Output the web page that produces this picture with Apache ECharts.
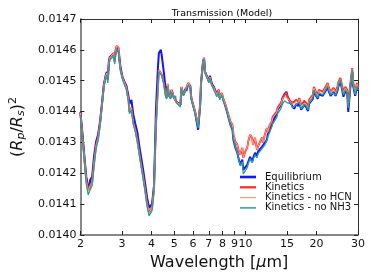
<!DOCTYPE html>
<html>
<head>
<meta charset="utf-8">
<script src="https://cdn.jsdelivr.net/npm/echarts@6/dist/echarts.min.js"></script>
<style>html,body{margin:0;padding:0;background:#fff}#c{width:374px;height:280px}</style>
</head>
<body>
<div id="c"></div>
<script>
const wavelength = [2.000,2.039,2.078,2.118,2.159,2.180,2.201,2.243,2.286,2.330,
2.376,2.422,2.468,2.516,2.564,2.589,2.614,2.639,2.664,2.716,
2.768,2.795,2.822,2.849,2.877,2.905,2.933,2.961,3.018,3.076,
3.136,3.197,3.228,3.290,3.354,3.419,3.485,3.553,3.621,3.690,
3.762,3.835,3.909,3.984,4.023,4.101,4.140,4.179,4.260,4.301,
4.385,4.427,4.512,4.599,4.643,4.688,4.733,4.824,4.870,4.964,
5.060,5.109,5.208,5.309,5.360,5.464,5.570,5.623,5.732,5.843,
5.899,6.013,6.129,6.188,6.308,6.430,6.492,6.617,6.681,6.745,
6.875,7.008,7.076,7.213,7.352,7.422,7.566,7.711,7.785,7.936,
8.089,8.245,8.404,8.485,8.649,8.816,8.901,9.073,9.249,9.338,
9.518,9.702,9.796,9.985,10.18,10.28,10.47,10.68,10.78,10.99,
11.20,11.31,11.53,11.75,11.86,12.09,12.32,12.44,12.69,12.93,
13.05,13.30,13.56,13.69,13.96,14.23,14.37,14.65,14.93,15.07,
15.36,15.66,15.81,16.11,16.43,16.75,16.91,17.23,17.57,17.74,
18.08,18.43,18.61,18.96,19.32,19.51,19.89,20.27,20.47,20.86,
21.26,21.47,21.88,22.31,22.52,22.96,23.40,23.63,24.09,24.55,
24.79,25.27,25.76,26.01,26.51,27.02,27.28,27.81,28.35,28.62,
29.18,29.73,30.00];

const equilibrium = [0.014399,0.014331,0.014257,0.014189,0.014156,0.014147,0.014179,0.014189,0.014257,0.014302,
0.014325,0.014367,0.014425,0.014490,0.014519,0.014529,0.014503,0.014561,0.014577,0.014574,
0.014587,0.014567,0.014596,0.014606,0.014600,0.014593,0.014567,0.014541,0.014512,0.014496,
0.014483,0.014451,0.014425,0.014438,0.014389,0.014360,0.014334,0.014289,0.014250,0.014211,
0.014166,0.014121,0.014088,0.014082,0.014101,0.014160,0.014276,0.014406,0.014541,0.014590,
0.014600,0.014580,0.014529,0.014470,0.014451,0.014483,0.014454,0.014444,0.014470,0.014448,
0.014454,0.014431,0.014428,0.014422,0.014477,0.014454,0.014474,0.014467,0.014490,0.014483,
0.014444,0.014418,0.014396,0.014376,0.014341,0.014418,0.014493,0.014561,0.014574,0.014529,
0.014529,0.014499,0.014516,0.014490,0.014480,0.014483,0.014457,0.014470,0.014444,0.014457,
0.014435,0.014415,0.014393,0.014380,0.014357,0.014341,0.014308,0.014283,0.014266,0.014250,
0.014227,0.014244,0.014211,0.014205,0.014227,0.014237,0.014253,0.014237,0.014250,0.014266,
0.014257,0.014270,0.014270,0.014286,0.014283,0.014299,0.014308,0.014325,0.014341,0.014357,
0.014367,0.014380,0.014389,0.014406,0.014415,0.014428,0.014444,0.014457,0.014464,0.014451,
0.014435,0.014438,0.014418,0.014409,0.014425,0.014418,0.014431,0.014406,0.014415,0.014422,
0.014415,0.014402,0.014425,0.014431,0.014441,0.014467,0.014451,0.014441,0.014457,0.014457,
0.014451,0.014451,0.014467,0.014480,0.014467,0.014451,0.014457,0.014464,0.014451,0.014467,
0.014483,0.014496,0.014467,0.014448,0.014467,0.014457,0.014399,0.014474,0.014529,0.014483,
0.014451,0.014480,0.014467];

const kinetics = [0.014396,0.014325,0.014250,0.014179,0.014143,0.014137,0.014160,0.014172,0.014237,0.014289,
0.014315,0.014360,0.014422,0.014486,0.014516,0.014525,0.014503,0.014554,0.014574,0.014574,
0.014590,0.014561,0.014600,0.014613,0.014609,0.014606,0.014561,0.014535,0.014509,0.014493,
0.014477,0.014438,0.014399,0.014412,0.014363,0.014341,0.014308,0.014266,0.014227,0.014189,
0.014147,0.014101,0.014072,0.014066,0.014088,0.014153,0.014250,0.014357,0.014477,0.014535,
0.014538,0.014519,0.014493,0.014451,0.014444,0.014490,0.014454,0.014444,0.014470,0.014448,
0.014454,0.014431,0.014428,0.014422,0.014480,0.014454,0.014470,0.014464,0.014493,0.014480,
0.014444,0.014422,0.014399,0.014383,0.014357,0.014422,0.014496,0.014561,0.014574,0.014529,
0.014525,0.014496,0.014512,0.014486,0.014477,0.014480,0.014454,0.014470,0.014444,0.014461,
0.014438,0.014422,0.014399,0.014389,0.014367,0.014357,0.014325,0.014302,0.014292,0.014276,
0.014260,0.014283,0.014250,0.014270,0.014283,0.014302,0.014325,0.014315,0.014292,0.014315,
0.014276,0.014286,0.014302,0.014315,0.014299,0.014325,0.014347,0.014334,0.014357,0.014367,
0.014383,0.014389,0.014399,0.014412,0.014422,0.014431,0.014444,0.014454,0.014461,0.014448,
0.014438,0.014444,0.014428,0.014422,0.014438,0.014431,0.014444,0.014422,0.014428,0.014435,
0.014428,0.014415,0.014438,0.014444,0.014454,0.014480,0.014464,0.014454,0.014470,0.014470,
0.014464,0.014464,0.014480,0.014493,0.014480,0.014464,0.014470,0.014477,0.014464,0.014480,
0.014496,0.014509,0.014480,0.014464,0.014480,0.014470,0.014422,0.014486,0.014541,0.014496,
0.014464,0.014493,0.014480];

const kineticsNoHCN = [0.014396,0.014325,0.014250,0.014179,0.014143,0.014137,0.014160,0.014172,0.014237,0.014289,
0.014315,0.014360,0.014422,0.014486,0.014516,0.014525,0.014503,0.014554,0.014574,0.014574,
0.014590,0.014561,0.014600,0.014613,0.014609,0.014606,0.014561,0.014535,0.014509,0.014493,
0.014477,0.014438,0.014399,0.014412,0.014363,0.014341,0.014308,0.014266,0.014227,0.014189,
0.014147,0.014101,0.014072,0.014066,0.014088,0.014153,0.014250,0.014357,0.014477,0.014535,
0.014538,0.014519,0.014493,0.014451,0.014444,0.014490,0.014454,0.014444,0.014470,0.014448,
0.014454,0.014431,0.014428,0.014422,0.014480,0.014454,0.014470,0.014464,0.014493,0.014480,
0.014444,0.014422,0.014399,0.014383,0.014357,0.014422,0.014496,0.014561,0.014574,0.014529,
0.014525,0.014496,0.014512,0.014486,0.014477,0.014480,0.014454,0.014470,0.014444,0.014461,
0.014438,0.014422,0.014399,0.014389,0.014367,0.014357,0.014325,0.014302,0.014292,0.014276,
0.014260,0.014283,0.014250,0.014270,0.014283,0.014302,0.014325,0.014315,0.014292,0.014315,
0.014276,0.014286,0.014302,0.014315,0.014299,0.014325,0.014347,0.014334,0.014357,0.014367,
0.014380,0.014386,0.014396,0.014409,0.014418,0.014428,0.014441,0.014448,0.014454,0.014444,
0.014435,0.014441,0.014425,0.014418,0.014435,0.014428,0.014441,0.014418,0.014425,0.014431,
0.014425,0.014412,0.014435,0.014441,0.014451,0.014477,0.014461,0.014451,0.014467,0.014467,
0.014461,0.014461,0.014477,0.014490,0.014477,0.014461,0.014467,0.014474,0.014461,0.014477,
0.014493,0.014506,0.014477,0.014461,0.014477,0.014467,0.014418,0.014483,0.014538,0.014493,
0.014461,0.014490,0.014477];

const kineticsNoNH3 = [0.014389,0.014318,0.014240,0.014166,0.014130,0.014124,0.014147,0.014160,0.014224,0.014279,
0.014305,0.014350,0.014415,0.014480,0.014509,0.014519,0.014493,0.014548,0.014567,0.014564,
0.014580,0.014554,0.014590,0.014603,0.014600,0.014593,0.014554,0.014529,0.014503,0.014486,
0.014470,0.014431,0.014393,0.014406,0.014357,0.014334,0.014302,0.014260,0.014221,0.014182,
0.014140,0.014092,0.014062,0.014056,0.014079,0.014143,0.014240,0.014347,0.014470,0.014529,
0.014535,0.014516,0.014490,0.014448,0.014441,0.014483,0.014451,0.014441,0.014464,0.014444,
0.014451,0.014428,0.014425,0.014415,0.014474,0.014451,0.014467,0.014461,0.014486,0.014477,
0.014441,0.014415,0.014393,0.014376,0.014347,0.014415,0.014490,0.014558,0.014571,0.014525,
0.014522,0.014493,0.014509,0.014483,0.014470,0.014474,0.014448,0.014464,0.014438,0.014454,
0.014431,0.014415,0.014393,0.014380,0.014357,0.014344,0.014312,0.014286,0.014266,0.014250,
0.014224,0.014237,0.014198,0.014192,0.014218,0.014231,0.014247,0.014234,0.014244,0.014260,
0.014250,0.014263,0.014263,0.014279,0.014276,0.014292,0.014305,0.014318,0.014334,0.014350,
0.014360,0.014370,0.014380,0.014393,0.014402,0.014415,0.014425,0.014435,0.014438,0.014428,
0.014422,0.014425,0.014412,0.014406,0.014422,0.014418,0.014431,0.014409,0.014415,0.014425,
0.014418,0.014406,0.014428,0.014435,0.014444,0.014470,0.014454,0.014444,0.014461,0.014461,
0.014454,0.014454,0.014470,0.014483,0.014470,0.014454,0.014461,0.014467,0.014454,0.014470,
0.014486,0.014503,0.014470,0.014454,0.014470,0.014461,0.014412,0.014477,0.014535,0.014486,
0.014454,0.014483,0.014470];

const xTickLabels = [2,3,4,5,6,7,8,9,10,15,20,30];
const yMin = 0.0140, yMax = 0.0147, yStep = 0.0001;
const seriesNames = ['Equilibrium','Kinetics','Kinetics - no HCN','Kinetics - no NH3'];
const seriesColors = ['#1414ff','#ff2a2a','#ff9a78','#23a29c'];
const seriesWidths = [2,2,1,1.3];
const legendThickness = [2.6,2.2,1.2,1.5];
const seriesValues = [equilibrium, kinetics, kineticsNoHCN, kineticsNoNH3];

const lg = Math.log10;
const xTicks = xTickLabels.map(lg);
const font = 'DejaVu Sans';

const chart = echarts.init(document.getElementById('c'), null, {renderer:'canvas'});
const xBase = {
  type:'value', min: lg(2), max: lg(30),
  splitLine:{show:false},
  axisTick:{inside:true, length:4, customValues:xTicks, lineStyle:{color:'#222', width:1}},
};
const yBase = {
  type:'value', min:yMin, max:yMax, interval:yStep,
  splitLine:{show:false},
  axisTick:{inside:true, length:4, lineStyle:{color:'#222', width:1}},
};
chart.setOption({
  animation:false,
  backgroundColor:'#fff',
  title:{text:'Transmission (Model)', left:217, textAlign:'center', top:4,
    textStyle:{fontFamily:font, fontSize:9.5, fontWeight:'normal', color:'#000'}},
  grid:{left:75, right:16, top:19, bottom:45, containLabel:false},
  legend:{
    orient:'vertical', left:240, top:172, padding:0,
    itemWidth:16, itemHeight:14, itemGap:0.3, symbolKeepAspect:true,
    textStyle:{fontFamily:font, fontSize:10, color:'#111', padding:[0,0,0,4]},
    data: seriesNames.map((n,i)=>({
      name:n,
      icon:'path://M0,0h16v' + legendThickness[i] + 'h-16z'
    }))
  },
  xAxis:[
    Object.assign({}, xBase, {
      position:'bottom',
      axisLine:{lineStyle:{color:'#888', width:2}},
      axisLabel:{customValues:xTicks, formatter:v=>String(Math.round(Math.pow(10,v))),
        fontFamily:font, fontSize:11, color:'#111', margin:4},
      name:'Wavelength [{i|μ}m]', nameLocation:'middle', nameGap:20,
      nameTextStyle:{fontFamily:font, fontSize:16, color:'#111',
        rich:{i:{fontFamily:font, fontSize:16, fontStyle:'italic', color:'#111'}}}
    }),
    Object.assign({}, xBase, {
      position:'top',
      axisLine:{lineStyle:{color:'#333', width:1}},
      axisLabel:{show:false}
    })
  ],
  yAxis:[
    Object.assign({}, yBase, {
      position:'left',
      axisLine:{lineStyle:{color:'#888', width:2}},
      axisLabel:{formatter:v=>v.toFixed(4), fontFamily:font, fontSize:11, color:'#111', margin:4},
      name:'{t|(}{r|R}{s|p}{t|/}{r|R}{s|s}{t|)}{u|2}', nameLocation:'middle', nameGap:52, nameRotate:90,
      nameTextStyle:{
        rich:{
          t:{fontFamily:font, fontSize:16, color:'#111'},
          r:{fontFamily:font, fontSize:16, fontStyle:'italic', color:'#111'},
          s:{fontFamily:font, fontSize:11, fontStyle:'italic', color:'#111', verticalAlign:'bottom', padding:[8,0,0,0]},
          u:{fontFamily:font, fontSize:11, color:'#111', verticalAlign:'top', padding:[0,0,8,0]}
        }
      }
    }),
    Object.assign({}, yBase, {
      position:'right',
      axisLine:{lineStyle:{color:'#333', width:1}},
      axisLabel:{show:false}
    })
  ],
  series: seriesNames.map((name,i)=>({
    name, type:'line', xAxisIndex:0, yAxisIndex:0,
    symbol:'none', showSymbol:false,
    lineStyle:{color:seriesColors[i], width:seriesWidths[i]},
    itemStyle:{color:seriesColors[i]},
    data: wavelength.map((w,k)=>[lg(w), seriesValues[i][k]])
  }))
});
</script>
</body>
</html>
